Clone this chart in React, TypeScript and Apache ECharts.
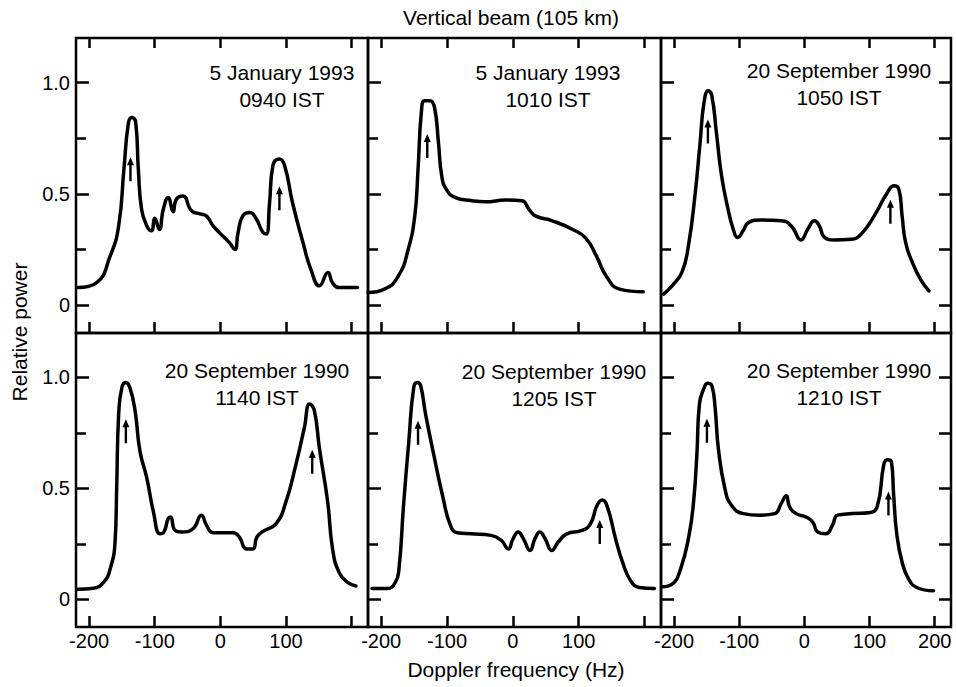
import React, { useEffect, useRef } from "react";
import * as echarts from "echarts";

// ---- Data ----
const freqTicks = [-200, -100, 0, 100, 200];
const freqLabelsInner = [-200, -100, 0, 100];
const freqLabelsLast = [-200, -100, 0, 100, 200];
const powerMajor = [0, 0.5, 1.0];
const powerMinor = [0.25, 0.75];
const powerAll = [0, 0.25, 0.5, 0.75, 1.0];

const chartTitle = "Vertical beam (105 km)";
const yTitle = "Relative power";
const xTitle = "Doppler frequency (Hz)";

const panelDates = [
  "5 January 1993",
  "5 January 1993",
  "20 September 1990",
  "20 September 1990",
  "20 September 1990",
  "20 September 1990",
];
const panelTimes = ["0940 IST", "1010 IST", "1050 IST", "1140 IST", "1205 IST", "1210 IST"];

const spectrum0940 = [
  [-217, 0.079], [-189, 0.1], [-168, 0.22], [-155, 0.356], [-147, 0.61], [-140, 0.82],
  [-135, 0.843], [-129, 0.82], [-125, 0.61], [-120, 0.43], [-112, 0.356], [-105, 0.334],
  [-100, 0.39], [-93, 0.34], [-87, 0.43], [-79.5, 0.484], [-72, 0.42], [-67, 0.476],
  [-57, 0.49], [-44, 0.424], [-31, 0.41], [-21, 0.4], [-11, 0.356], [4, 0.31], [14, 0.28],
  [22, 0.25], [27, 0.326], [34, 0.4], [45, 0.416], [55, 0.386], [65, 0.326], [70, 0.32],
  [75, 0.46], [80, 0.626], [90, 0.656], [98, 0.626], [110, 0.46], [126, 0.28], [138, 0.16],
  [151, 0.087], [164, 0.147], [171, 0.1], [181, 0.079], [209, 0.079],
];
const spectrum1010 = [
  [-220, 0.057], [-195, 0.072], [-174, 0.13], [-159, 0.25], [-149, 0.4], [-144, 0.61],
  [-139, 0.865], [-134, 0.918], [-126, 0.918], [-119, 0.888], [-113, 0.73], [-108, 0.58],
  [-101, 0.52], [-88, 0.484], [-62, 0.469], [-42, 0.464], [-11, 0.472], [14, 0.469],
  [24.5, 0.43], [35, 0.4], [60, 0.379], [91, 0.34], [111, 0.3], [127, 0.22], [142, 0.13],
  [162, 0.072], [198, 0.06],
];
const spectrum1050 = [
  [-216, 0.05], [-203, 0.087], [-188, 0.147], [-178, 0.266], [-168, 0.49], [-160, 0.73],
  [-154, 0.91], [-147.5, 0.963], [-142, 0.94], [-135, 0.775], [-127, 0.58], [-117, 0.43],
  [-109, 0.34], [-102.6, 0.304], [-94, 0.334], [-86, 0.371], [-66, 0.383], [-35, 0.379],
  [-20, 0.356], [-5, 0.293], [5, 0.34], [15.5, 0.379], [23, 0.356], [31, 0.304], [46, 0.293],
  [71.5, 0.296], [87, 0.319], [107, 0.4], [127.5, 0.506], [137.6, 0.536], [145, 0.52],
  [150, 0.4], [155.5, 0.28], [166, 0.19], [178, 0.117], [191, 0.064],
];
const spectrum1140 = [
  [-218, 0.045], [-193, 0.05], [-178, 0.076], [-168, 0.136], [-160.5, 0.258], [-158, 0.5],
  [-155, 0.833], [-150, 0.955], [-144, 0.977], [-138, 0.955], [-130, 0.85], [-122.5, 0.667],
  [-112, 0.545], [-102, 0.394], [-92, 0.295], [-86, 0.303], [-79.5, 0.364], [-76, 0.371],
  [-69, 0.31], [-59, 0.303], [-41.5, 0.318], [-29, 0.379], [-21, 0.333], [-11, 0.3], [19, 0.3],
  [29, 0.28], [39.5, 0.227], [49.6, 0.227], [55.7, 0.28], [65, 0.306], [85, 0.341],
  [100, 0.44], [115, 0.606], [128, 0.773], [136, 0.88], [143, 0.853], [151, 0.68],
  [163.5, 0.44], [171, 0.227], [181, 0.121], [194, 0.076], [206.6, 0.06],
];
const spectrum1205 = [
  [-214, 0.048], [-191, 0.048], [-178.5, 0.076], [-173, 0.136], [-166, 0.424], [-158, 0.712],
  [-150.5, 0.955], [-145, 0.977], [-140, 0.962], [-132.5, 0.833], [-120, 0.65], [-107, 0.47],
  [-94, 0.326], [-84, 0.3], [-63.6, 0.295], [-33, 0.288], [-17.5, 0.265], [-7, 0.227],
  [0.4, 0.273], [8, 0.303], [16, 0.273], [26, 0.22], [33.6, 0.273], [41, 0.303], [49, 0.273],
  [59, 0.22], [69, 0.258], [82, 0.295], [105, 0.31], [118, 0.341], [128, 0.424], [136, 0.447],
  [143.5, 0.417], [156, 0.273], [166.6, 0.167], [179, 0.083], [192, 0.053], [215, 0.048],
];
const spectrum1210 = [
  [-218, 0.056], [-203, 0.068], [-190, 0.136], [-177, 0.288], [-170, 0.44], [-165, 0.65],
  [-161, 0.88], [-154.6, 0.947], [-148.5, 0.973], [-142, 0.962], [-137, 0.864], [-132, 0.68],
  [-122, 0.5], [-111.9, 0.424], [-93.8, 0.386], [-68, 0.379], [-45.6, 0.386], [-35.4, 0.432],
  [-27.8, 0.467], [-22.7, 0.417], [-12.6, 0.386], [2.6, 0.371], [12.8, 0.348], [20.4, 0.303],
  [33, 0.295], [43, 0.333], [51, 0.379], [74, 0.386], [99, 0.39], [111.7, 0.417],
  [121.8, 0.606], [127, 0.629], [133.6, 0.62], [137, 0.47], [142, 0.288], [150, 0.167],
  [160, 0.091], [172.6, 0.053], [198, 0.038],
];

// arrow markers [frequency, power at arrow centre]
const arrows0940 = [[-137, 0.61], [90, 0.48]];
const arrows1010 = [[-130, 0.715]];
const arrows1050 = [[-148, 0.78], [132, 0.42]];
const arrows1140 = [[-144, 0.757], [140, 0.62]];
const arrows1205 = [[-144, 0.75], [132, 0.303]];
const arrows1210 = [[-149.5, 0.76], [129, 0.432]];

const spectra = [spectrum0940, spectrum1010, spectrum1050, spectrum1140, spectrum1205, spectrum1210];
const arrowSets = [arrows0940, arrows1010, arrows1050, arrows1140, arrows1205, arrows1210];

// ---- Layout ----
const colLeft = [76, 368, 661];
const colWidth = [292, 293, 290];
const rowTop = [38, 333];
const rowHeight = [295, 294];
const noteX = [282, 548, 839, 257, 554, 839];
const noteY = [86, 86, 84, 384, 385, 384];

const FONT = '"Liberation Sans", Arial, Helvetica, sans-serif';
const ARROW = "path://M3.5 0 L7 8 L4.7 8 L4.7 24 L2.3 24 L2.3 8 L0 8 Z";

function buildOption() {
  const grid: any[] = [];
  const xAxis: any[] = [];
  const yAxis: any[] = [];
  const series: any[] = [];
  const graphic: any[] = [];

  const tickStyle = { color: "#000", width: 2.5 };

  for (let i = 0; i < 6; i++) {
    const r = Math.floor(i / 3);
    const c = i % 3;
    grid.push({
      left: colLeft[c],
      top: rowTop[r],
      width: colWidth[c],
      height: rowHeight[r],
      show: true,
      borderColor: "#000",
      borderWidth: 2.5,
      backgroundColor: "transparent",
      containLabel: false,
    });

    const xBottomIdx = xAxis.length;
    xAxis.push({
      type: "value",
      gridIndex: i,
      min: -220,
      max: 225,
      position: "bottom",
      axisLine: { show: false, onZero: false },
      axisTick: {
        show: true,
        inside: true,
        length: 11,
        lineStyle: tickStyle,
        customValues: freqTicks,
      },
      axisLabel: {
        show: r === 1,
        customValues: c < 2 ? freqLabelsInner : freqLabelsLast,
        color: "#000",
        fontSize: 20,
        fontFamily: FONT,
        margin: 4,
      },
      splitLine: { show: false },
    });
    if (r === 0) {
      xAxis.push({
        type: "value",
        gridIndex: i,
        min: -220,
        max: 225,
        position: "top",
        axisLine: { show: false, onZero: false },
        axisTick: {
          show: true,
          inside: true,
          length: 10,
          lineStyle: tickStyle,
          customValues: freqTicks,
        },
        axisLabel: { show: false },
        splitLine: { show: false },
      });
    }

    const yIdx = yAxis.length;
    yAxis.push({
      type: "value",
      gridIndex: i,
      min: -0.125,
      max: 1.2,
      position: "left",
      axisLine: { show: false, onZero: false },
      axisTick: {
        show: true,
        inside: true,
        length: 13,
        lineStyle: tickStyle,
        customValues: powerMajor,
      },
      axisLabel: {
        show: c === 0,
        customValues: powerMajor,
        formatter: (v: number) => (v === 0 ? "0" : v.toFixed(1)),
        color: "#000",
        fontSize: 20,
        fontFamily: FONT,
        margin: 6,
      },
      splitLine: { show: false },
    });
    yAxis.push({
      type: "value",
      gridIndex: i,
      min: -0.125,
      max: 1.2,
      position: "left",
      axisLine: { show: false, onZero: false },
      axisTick: {
        show: true,
        inside: true,
        length: 10,
        lineStyle: tickStyle,
        customValues: powerMinor,
      },
      axisLabel: { show: false },
      splitLine: { show: false },
    });
    if (c === 2) {
      yAxis.push({
        type: "value",
        gridIndex: i,
        min: -0.125,
        max: 1.2,
        position: "right",
        axisLine: { show: false, onZero: false },
        axisTick: {
          show: true,
          inside: true,
          length: 12,
          lineStyle: tickStyle,
          customValues: powerAll,
        },
        axisLabel: { show: false },
        splitLine: { show: false },
      });
    }

    series.push({
      type: "line",
      xAxisIndex: xBottomIdx,
      yAxisIndex: yIdx,
      data: spectra[i],
      smooth: 0.5,
      showSymbol: false,
      symbol: "none",
      lineStyle: { color: "#000", width: 3.5, cap: "round", join: "round" },
      silent: true,
      z: 3,
    });
    series.push({
      type: "scatter",
      xAxisIndex: xBottomIdx,
      yAxisIndex: yIdx,
      data: arrowSets[i],
      symbol: ARROW,
      symbolSize: [7, 24],
      itemStyle: { color: "#000", opacity: 1 },
      silent: true,
      z: 4,
    });

    graphic.push({
      type: "text",
      x: noteX[i],
      y: noteY[i],
      style: {
        text: panelDates[i] + "\n" + panelTimes[i],
        textAlign: "center",
        textVerticalAlign: "middle",
        font: `21px ${FONT}`,
        lineHeight: 27,
        fill: "#000",
      },
      z: 10,
    });
  }

  graphic.push({
    type: "text",
    x: 511,
    y: 17,
    style: {
      text: chartTitle,
      textAlign: "center",
      textVerticalAlign: "middle",
      font: `21px ${FONT}`,
      fill: "#000",
    },
  });
  graphic.push({
    type: "text",
    x: 516,
    y: 669,
    style: {
      text: xTitle,
      textAlign: "center",
      textVerticalAlign: "middle",
      font: `21px ${FONT}`,
      fill: "#000",
    },
  });
  graphic.push({
    type: "text",
    x: 19,
    y: 332,
    rotation: Math.PI / 2,
    style: {
      text: yTitle,
      textAlign: "center",
      textVerticalAlign: "middle",
      font: `21px ${FONT}`,
      fill: "#000",
    },
  });

  return {
    animation: false,
    backgroundColor: "#fff",
    grid,
    xAxis,
    yAxis,
    series,
    graphic,
  };
}

export default function App() {
  const ref = useRef<HTMLDivElement>(null);
  useEffect(() => {
    document.body.style.margin = "0";
    if (!ref.current) return;
    const chart = echarts.init(ref.current, undefined, { renderer: "svg" });
    chart.setOption(buildOption() as any);
    return () => {
      chart.dispose();
    };
  }, []);
  return <div ref={ref} style={{ width: 956, height: 687 }} />;
}
